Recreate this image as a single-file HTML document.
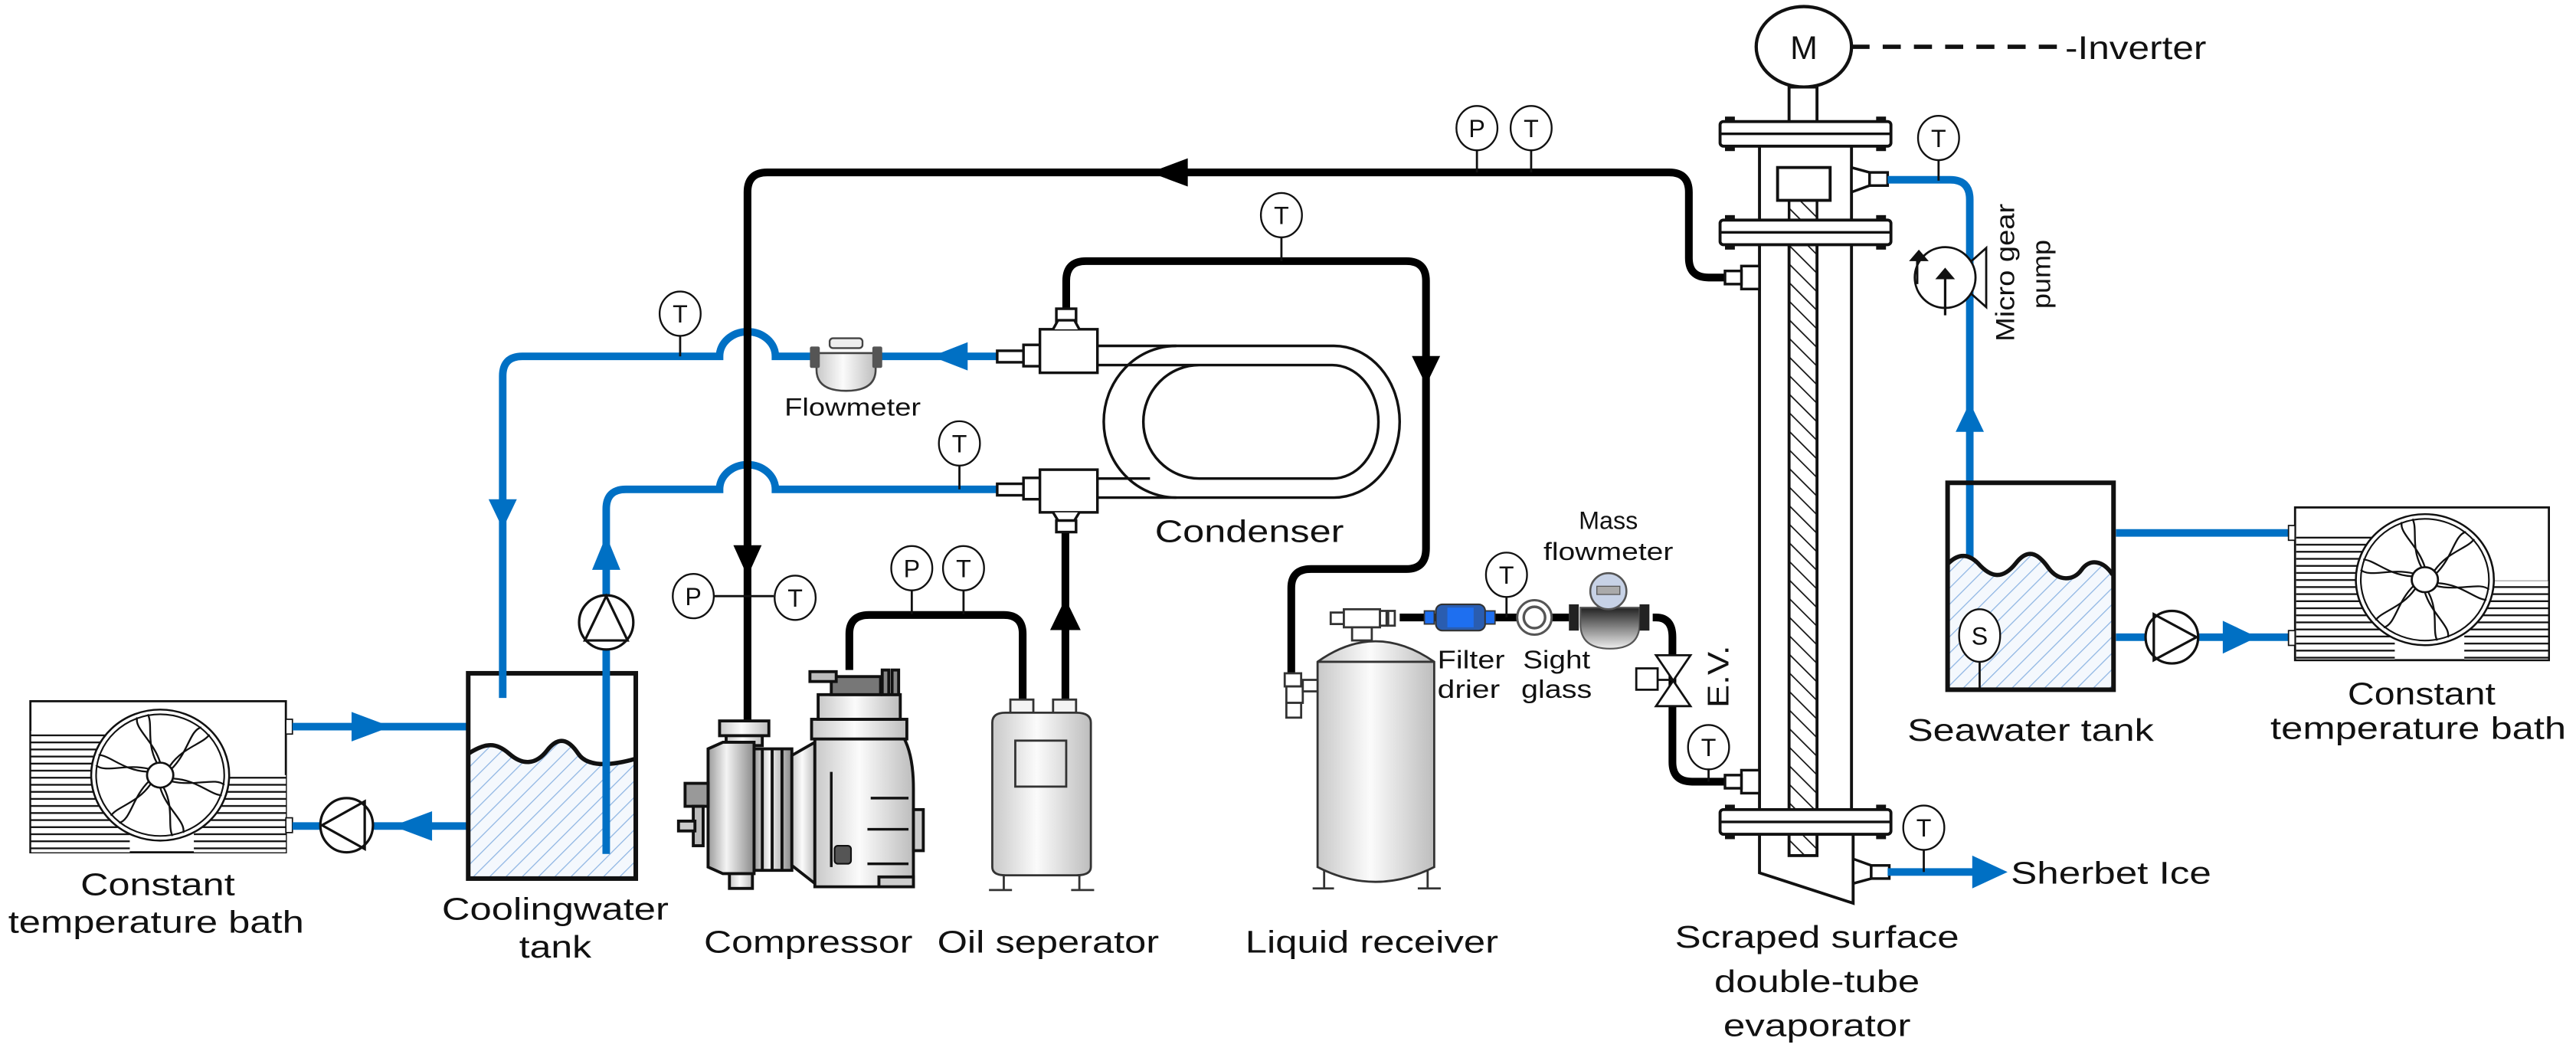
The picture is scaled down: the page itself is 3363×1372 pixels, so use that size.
<!DOCTYPE html>
<html><head><meta charset="utf-8"><style>
html,body{margin:0;padding:0;background:#fff;}
svg{display:block;}
text{font-family:"Liberation Sans",Arial,sans-serif;fill:#111;}
</style></head><body>
<svg width="3363" height="1372" viewBox="0 0 1568 640" preserveAspectRatio="none" xmlns="http://www.w3.org/2000/svg">
<defs>
<pattern id="hatch" patternUnits="userSpaceOnUse" width="7" height="7" patternTransform="rotate(45)">
<rect width="7" height="7" fill="#f4f8fd"/><line x1="0" y1="0" x2="0" y2="7" stroke="#8fb6e3" stroke-width="1.2"/></pattern>
<pattern id="rodh" patternUnits="userSpaceOnUse" width="8" height="8" patternTransform="rotate(-45)">
<rect width="8" height="8" fill="#fff"/><line x1="0" y1="0" x2="0" y2="8" stroke="#111" stroke-width="1.6"/></pattern>
<pattern id="fins" patternUnits="userSpaceOnUse" width="10" height="4.3">
<rect width="10" height="4.3" fill="#fff"/><line x1="0" y1="0.6" x2="10" y2="0.6" stroke="#111" stroke-width="1.1"/></pattern>
<linearGradient id="metal" x1="0" x2="1" y1="0" y2="0">
<stop offset="0" stop-color="#9a9a9a"/><stop offset="0.4" stop-color="#f4f4f4"/><stop offset="1" stop-color="#8a8a8a"/></linearGradient>
<linearGradient id="metal2" x1="0" x2="1">
<stop offset="0" stop-color="#c8c8c8"/><stop offset="0.45" stop-color="#fbfbfb"/><stop offset="1" stop-color="#bdbdbd"/></linearGradient>
<linearGradient id="dark" x1="0" x2="0" y1="0" y2="1">
<stop offset="0" stop-color="#222"/><stop offset="1" stop-color="#eee"/></linearGradient>
<g id="fan">
<circle r="42" fill="#fff" stroke="#111" stroke-width="1.2"/>
<circle r="39" fill="#fff" stroke="#111" stroke-width="1"/>
<g fill="none" stroke="#111" stroke-width="1.1">
<path id="bl" d="M0,-8 C-4,-22 -16,-30 -14,-37"/>
<use href="#bl" transform="rotate(60)"/><use href="#bl" transform="rotate(120)"/>
<use href="#bl" transform="rotate(180)"/><use href="#bl" transform="rotate(240)"/><use href="#bl" transform="rotate(300)"/>
<path id="bl2" d="M6,-6 C14,-18 26,-20 30,-26"/>
<use href="#bl2" transform="rotate(60)"/><use href="#bl2" transform="rotate(120)"/>
<use href="#bl2" transform="rotate(180)"/><use href="#bl2" transform="rotate(240)"/><use href="#bl2" transform="rotate(300)"/>
</g>
<circle r="8" fill="#fff" stroke="#111" stroke-width="1.3"/>
</g>
</defs>

<!-- LEFT BATH -->
<rect x="18.5" y="427" width="155.5" height="92" fill="#fff" stroke="#111" stroke-width="1.3"/>
<rect x="19" y="445" width="60" height="74" fill="url(#fins)"/>
<rect x="118" y="472" width="56" height="47" fill="url(#fins)"/>
<use href="#fan" transform="translate(97.5,472) scale(1,0.95)"/>
<rect x="174" y="438" width="4" height="9" fill="#fff" stroke="#111" stroke-width="0.8"/>
<rect x="174" y="498" width="4" height="9" fill="#fff" stroke="#111" stroke-width="0.8"/>
<text x="96" y="545" text-anchor="middle" font-size="19" textLength="94" lengthAdjust="spacingAndGlyphs">Constant</text>
<text x="95" y="568" text-anchor="middle" font-size="19" textLength="180" lengthAdjust="spacingAndGlyphs">temperature bath</text>

<!-- blue left connections -->
<g stroke="#0070c4" stroke-width="4.6" fill="none">
<path d="M178,442.5 H285"/>
<path d="M178,503 H285"/>
</g>
<polygon points="238,442.5 214,433.5 214,451.5" fill="#0070c4"/>
<polygon points="239,503 263,494 263,512" fill="#0070c4"/>
<ellipse cx="211" cy="502.5" rx="16" ry="16.5" fill="#fff" stroke="#111" stroke-width="1.5"/>
<path d="M196,502.5 L222,488 V517 Z" fill="none" stroke="#111" stroke-width="1.5"/>

<!-- COOLING TANK -->
<path d="M285,459 C296,452 302,452 310,459 C318,466 326,466 333,457 C340,448 346,450 352,459 C356,465 362,467 387,463 V535 H285 Z" fill="url(#hatch)"/>
<path d="M285,459 C296,452 302,452 310,459 C318,466 326,466 333,457 C340,448 346,450 352,459 C356,465 366,468 387,462" fill="none" stroke="#111" stroke-width="2.6"/>
<rect x="285" y="410" width="102" height="125" fill="none" stroke="#111" stroke-width="2.8"/>
<text x="338" y="560" text-anchor="middle" font-size="19" textLength="138" lengthAdjust="spacingAndGlyphs">Coolingwater</text>
<text x="338" y="583" text-anchor="middle" font-size="19" textLength="44" lengthAdjust="spacingAndGlyphs">tank</text>

<!-- blue cooling loops -->
<g stroke="#0070c4" stroke-width="4.6" fill="none">
<path d="M607,217 H472 A17,15 0 0 0 438,217 H318 Q306,217 306,229 V425"/>
<path d="M369,520 V310 Q369,298 381,298 H438 A17,15 0 0 1 472,298 H607"/>
</g>
<polygon points="306,322 297.4,304 314.6,304" fill="#0070c4"/>
<polygon points="369,326 360.4,347 377.6,347" fill="#0070c4"/>
<polygon points="567,217 589,208.4 589,225.6" fill="#0070c4"/>
<circle cx="369" cy="379" r="16.5" fill="#fff" stroke="#111" stroke-width="1.5"/>
<path d="M369,363 L356,390 H382 Z" fill="none" stroke="#111" stroke-width="1.5"/>
<!-- flowmeter -->
<path d="M497,215 H533 V225 Q533,238 515,238 Q497,238 497,225 Z" fill="url(#metal2)" stroke="#444" stroke-width="1.2"/>
<rect x="493" y="211" width="6" height="13" rx="1" fill="#555"/>
<rect x="531" y="211" width="6" height="13" rx="1" fill="#555"/>
<rect x="505" y="206" width="20" height="6" rx="2" fill="#eee" stroke="#444" stroke-width="1.1"/>
<text x="519" y="253" text-anchor="middle" font-size="15" textLength="83" lengthAdjust="spacingAndGlyphs">Flowmeter</text>

<!-- MAIN BLACK LOOP -->
<g stroke="#000" stroke-width="4.7" fill="none">
<path d="M1050,169 H1040 Q1028,169 1028,157 V117 Q1028,105 1016,105 H467 Q455,105 455,117 V439"/>
<path d="M649,189 V171 Q649,159 661,159 H856 Q868,159 868,171 V334 Q868,346.5 856,346.5 H798 Q786,346.5 786,358 V410"/>
<path d="M517,408 V386 Q517,374.5 529,374.5 H611 Q622.5,374.5 622.5,386 V432"/>
<path d="M648.5,432 V320"/>
<path d="M852,376 H874 M903,376 H924 M944,376 H955 M1006,376 H1008 Q1018,376 1018,388 V464 Q1018,476 1030,476 H1050"/>
</g>
<polygon points="700,105 723,96.4 723,113.6" fill="#000"/>
<polygon points="455,351 446.4,332 463.6,332" fill="#000"/>
<polygon points="868,234.6 859.4,216.8 876.6,216.8" fill="#000"/>
<polygon points="648.5,364.5 639.2,383.7 657.8,383.7" fill="#000"/>

<!-- CONDENSER -->
<g fill="none" stroke="#111" stroke-width="1.6">
<path d="M668,210.6 H812 A40,46.2 0 0 1 812,303 H668"/>
<path d="M668,222.3 H811 A28,34.5 0 0 1 811,291.4 H730 A34,34.5 0 0 1 730,222.3"/>
<path d="M668,291.4 H700 M716,210.6 A44,46 0 0 0 716,303"/>
</g>
<g fill="#fff" stroke="#111" stroke-width="1.6">
<rect x="607" y="213.6" width="16" height="7" />
<rect x="623" y="210" width="10" height="13"/>
<rect x="633" y="200.5" width="35" height="26.5"/>
<rect x="643" y="188" width="12" height="8"/>
<path d="M641,200.5 L644,195 H654 L657,200.5"/>
<rect x="607" y="294.6" width="16" height="7"/>
<rect x="623" y="291" width="10" height="13"/>
<rect x="633" y="286" width="35" height="26"/>
<path d="M641,312 L644,317 H654 L657,312"/>
<rect x="643" y="317" width="12" height="7"/>
</g>
<text x="703" y="330" font-size="19" textLength="115" lengthAdjust="spacingAndGlyphs">Condenser</text>

<!-- COMPRESSOR -->
<g stroke="#111" stroke-width="1.8">
<rect x="438" y="439" width="30" height="9" fill="url(#metal2)"/>
<rect x="442" y="448" width="22" height="6" fill="url(#metal2)"/>
<path d="M431,456 L440,452 H459 V532 H440 L431,528 Z" fill="url(#metal)"/>
<rect x="459" y="456" width="23" height="74" fill="url(#metal)"/>
<line x1="464" y1="456" x2="464" y2="530"/><line x1="470" y1="456" x2="470" y2="530"/><line x1="476" y1="456" x2="476" y2="530"/>
<path d="M482,460 L496,452 V538 L482,527 Z" fill="url(#metal2)"/>
<path d="M496,449 H550 Q556,460 556,480 V540 H496 Z" fill="url(#metal2)"/>
<rect x="494" y="438" width="58" height="12" fill="url(#metal2)"/>
<rect x="498" y="423" width="50" height="15" fill="url(#metal2)"/>
<rect x="506" y="412" width="30" height="11" fill="#777"/>
<rect x="493" y="409" width="16" height="6" fill="#bbb"/>
<rect x="537" y="408" width="4" height="15" fill="#888"/><rect x="543" y="408" width="4" height="15" fill="#888"/>
<rect x="556" y="493" width="6" height="25" fill="#ccc"/>
<rect x="535" y="534" width="21" height="6" fill="#ccc"/>
<rect x="444" y="532" width="14" height="9" fill="url(#metal2)"/>
<rect x="417" y="477" width="14" height="14" fill="#999"/>
<rect x="422" y="491" width="6" height="24" fill="#bbb"/>
<rect x="413" y="500" width="10" height="6" fill="#ccc"/>
</g>
<g stroke="#111" stroke-width="1.6">
<line x1="530" y1="486" x2="553" y2="486"/><line x1="528" y1="526" x2="553" y2="526"/><line x1="528" y1="505" x2="553" y2="505"/>
<line x1="506" y1="470" x2="506" y2="528"/>
</g>
<rect x="508" y="515" width="10" height="11" rx="2" fill="#555" stroke="#111"/>
<text x="492" y="580" text-anchor="middle" font-size="19" textLength="127" lengthAdjust="spacingAndGlyphs">Compressor</text>

<!-- OIL SEPARATOR -->
<g stroke="#333" stroke-width="1.3">
<rect x="615" y="426" width="14" height="8" fill="#f4f4f4"/>
<rect x="641" y="426" width="14" height="8" fill="#f4f4f4"/>
<path d="M604,440 Q604,434 612,434 H655 Q664,434 664,440 V528 Q664,533 655,533 H612 Q604,533 604,528 Z" fill="url(#metal2)"/>
<rect x="618" y="451" width="31" height="28" fill="none"/>
<path d="M611,533 V542 M657,533 V542 M602,542 H616 M652,542 H666" fill="none"/>
</g>
<text x="638" y="580" text-anchor="middle" font-size="19" textLength="135" lengthAdjust="spacingAndGlyphs">Oil seperator</text>

<!-- LIQUID RECEIVER -->
<g stroke="#333" stroke-width="1.3">
<path d="M802,403 Q837,378 873,403 V528 Q837,546 802,528 Z" fill="url(#metal2)"/>
<line x1="802" y1="403" x2="873" y2="403"/>
<path d="M806,530 V541 M869,530 V541 M799,541 H812 M863,541 H877" fill="none"/>
<rect x="810" y="373" width="8" height="7" fill="#fff"/>
<rect x="818" y="371" width="22" height="11" fill="#fff"/>
<rect x="840" y="372" width="4" height="9" fill="#fff"/><rect x="845" y="372" width="4" height="9" fill="#fff"/>
<rect x="823" y="382" width="12" height="8" fill="#fff"/>
<rect x="782" y="410" width="10" height="8" fill="#fff"/>
<rect x="783" y="418" width="10" height="10" fill="#fff"/>
<rect x="793" y="414" width="9" height="7" fill="#fff"/>
<rect x="783" y="428" width="9" height="9" fill="#fff"/>
</g>
<text x="835" y="580" text-anchor="middle" font-size="19" textLength="154" lengthAdjust="spacingAndGlyphs">Liquid receiver</text>

<!-- filter drier / sight glass / mass flowmeter -->
<rect x="874" y="368" width="30" height="16" rx="4" fill="#2a5db0" stroke="#333" stroke-width="1"/>
<rect x="881" y="370" width="16" height="12" fill="#1e6ff0"/>
<rect x="867" y="372" width="6" height="8" fill="#1e6ff0" stroke="#333" stroke-width="0.8"/>
<rect x="904" y="372" width="6" height="8" fill="#1e6ff0" stroke="#333" stroke-width="0.8"/>
<circle cx="934" cy="376" r="10.5" fill="#fff" stroke="#555" stroke-width="1.4"/>
<circle cx="934" cy="376" r="6.5" fill="#fff" stroke="#555" stroke-width="1.6"/>
<path d="M962,370 H998 V380 Q998,395 980,395 Q962,395 962,380 Z" fill="url(#dark)" stroke="#555"/>
<rect x="955" y="368" width="6" height="16" fill="#222"/>
<rect x="998" y="368" width="6" height="16" fill="#222"/>
<circle cx="979" cy="360" r="11" fill="#c7d2e6" stroke="#555" stroke-width="1.2"/>
<rect x="972" y="357" width="14" height="5" fill="#aaa" stroke="#555" stroke-width="0.6"/>
<text x="875" y="407" font-size="15.5" textLength="41" lengthAdjust="spacingAndGlyphs">Filter</text>
<text x="875" y="425" font-size="15.5" textLength="38" lengthAdjust="spacingAndGlyphs">drier</text>
<text x="927" y="407" font-size="15.5" textLength="41" lengthAdjust="spacingAndGlyphs">Sight</text>
<text x="926" y="425" font-size="15.5" textLength="43" lengthAdjust="spacingAndGlyphs">glass</text>
<text x="979" y="322" text-anchor="middle" font-size="15" textLength="36" lengthAdjust="spacingAndGlyphs">Mass</text>
<text x="979" y="341" text-anchor="middle" font-size="15" textLength="79" lengthAdjust="spacingAndGlyphs">flowmeter</text>
<!-- EV -->
<path d="M1008,399 H1029 L1008,430 H1029 Z" fill="#fff" stroke="#111" stroke-width="1.3"/>
<rect x="996" y="407" width="13" height="13" fill="#fff" stroke="#111" stroke-width="1.3"/>
<line x1="1009" y1="414" x2="1018" y2="414" stroke="#111" stroke-width="1.3"/>
<text transform="translate(1052,412) rotate(-90)" text-anchor="middle" font-size="18" textLength="38" lengthAdjust="spacingAndGlyphs">E.V.</text>

<!-- EVAPORATOR -->
<ellipse cx="1098" cy="28.5" rx="29" ry="24.5" fill="#fff" stroke="#111" stroke-width="2"/>
<text x="1098" y="36" text-anchor="middle" font-size="20">M</text>
<line x1="1127" y1="28.5" x2="1255" y2="28.5" stroke="#111" stroke-width="2.6" stroke-dasharray="11,8"/>
<text x="1257" y="36" font-size="20" textLength="86" lengthAdjust="spacingAndGlyphs">-Inverter</text>
<rect x="1089" y="53" width="17" height="22" fill="#fff" stroke="#111" stroke-width="1.8"/>
<g stroke="#111" stroke-width="1.8" fill="none">
<path d="M1071,89 V134 M1127,89 V134"/>
<path d="M1071,149 V493 M1127,149 V493"/>
<path d="M1071,508 V531.5 L1128,550 V508"/>
</g>
<rect x="1089" y="122" width="17" height="12" fill="url(#rodh)" stroke="#111" stroke-width="1.6"/>
<rect x="1082" y="102" width="32" height="20" fill="#fff" stroke="#111" stroke-width="1.8"/>
<rect x="1089" y="149" width="17" height="372" fill="url(#rodh)" stroke="#111" stroke-width="1.8"/>
<g fill="#fff" stroke="#111" stroke-width="1.8">
<rect x="1047" y="74" width="104" height="15" rx="2"/>
<rect x="1047" y="134" width="104" height="15" rx="2"/>
<rect x="1047" y="493" width="104" height="15" rx="2"/>
</g>
<g stroke="#111" stroke-width="1.6">
<line x1="1047" y1="81.5" x2="1151" y2="81.5"/><line x1="1047" y1="141.5" x2="1151" y2="141.5"/><line x1="1047" y1="500.5" x2="1151" y2="500.5"/>
</g>
<g fill="#111">
<rect x="1050" y="71" width="6" height="3"/><rect x="1142" y="71" width="6" height="3"/><rect x="1050" y="89" width="6" height="3"/><rect x="1142" y="89" width="6" height="3"/>
<rect x="1050" y="131" width="6" height="3"/><rect x="1142" y="131" width="6" height="3"/><rect x="1050" y="149" width="6" height="3"/><rect x="1142" y="149" width="6" height="3"/>
<rect x="1050" y="490" width="6" height="3"/><rect x="1142" y="490" width="6" height="3"/><rect x="1050" y="508" width="6" height="3"/><rect x="1142" y="508" width="6" height="3"/>
</g>
<g fill="#fff" stroke="#111" stroke-width="1.6">
<path d="M1127,102 L1138,105 V113 L1127,117 Z"/><rect x="1138" y="105" width="11" height="8"/>
<path d="M1128,523 L1139,527 V535 L1128,538 Z"/><rect x="1139" y="527" width="11" height="8"/>
<rect x="1060" y="162" width="11" height="14"/><rect x="1050" y="165" width="10" height="8"/>
<rect x="1060" y="469" width="11" height="14"/><rect x="1050" y="472" width="10" height="8"/>
</g>
<text x="1106" y="577" text-anchor="middle" font-size="19" textLength="173" lengthAdjust="spacingAndGlyphs">Scraped surface</text>
<text x="1106" y="604" text-anchor="middle" font-size="19" textLength="125" lengthAdjust="spacingAndGlyphs">double-tube</text>
<text x="1106" y="631" text-anchor="middle" font-size="19" textLength="114" lengthAdjust="spacingAndGlyphs">evaporator</text>

<!-- right blue circuit -->
<g stroke="#0070c4" stroke-width="4.6" fill="none">
<path d="M1149,109.5 H1187 Q1199,109.5 1199,121.5 V341"/>
<path d="M1149,531 H1205"/>
<path d="M1288,324.5 H1394"/>
<path d="M1288,388 H1394"/>
</g>
<polygon points="1222,531 1200.5,521 1200.5,541" fill="#0070c4"/>
<text x="1224" y="538" font-size="19" textLength="122" lengthAdjust="spacingAndGlyphs">Sherbet Ice</text>
<polygon points="1199,245 1190.4,263 1207.6,263" fill="#0070c4"/>
<polygon points="1374,388 1353,378 1353,398" fill="#0070c4"/>
<!-- micro gear pump -->
<circle cx="1184" cy="169" r="18.5" fill="#fff" stroke="#111" stroke-width="1.3"/>
<path d="M1200,159 L1209,151 V187 L1200,179" fill="none" stroke="#111" stroke-width="1.3"/>
<path d="M1184,192 V166" stroke="#111" stroke-width="1.5"/>
<polygon points="1184,163 1178,170 1190,170" fill="#111"/>
<path d="M1167,173 V156" stroke="#111" stroke-width="1.4" fill="none"/>
<polygon points="1168,152 1162,159 1174,159" fill="#111"/>
<text transform="translate(1226,166) rotate(-90)" text-anchor="middle" font-size="16" textLength="84" lengthAdjust="spacingAndGlyphs">Micro gear</text>
<text transform="translate(1248,167) rotate(-90)" text-anchor="middle" font-size="16" textLength="42" lengthAdjust="spacingAndGlyphs">pump</text>

<!-- SEAWATER TANK -->
<path d="M1186,343 C1192,337 1198,337 1204,343 C1212,352 1219,353 1227,343 C1234,334 1240,336 1247,346 C1253,354 1262,354 1267,347 C1272,340 1280,341 1286,350 V420 H1186 Z" fill="url(#hatch)"/>
<path d="M1186,343 C1192,337 1198,337 1204,343 C1212,352 1219,353 1227,343 C1234,334 1240,336 1247,346 C1253,354 1262,354 1267,347 C1272,340 1280,341 1286,350" fill="none" stroke="#111" stroke-width="2.6"/>
<rect x="1185.5" y="294" width="101" height="126" fill="none" stroke="#111" stroke-width="2.8"/>
<text x="1236" y="451" text-anchor="middle" font-size="19" textLength="150" lengthAdjust="spacingAndGlyphs">Seawater tank</text>
<circle cx="1322" cy="388" r="16" fill="#fff" stroke="#111" stroke-width="1.5"/>
<path d="M1337,388 L1311,374 V402 Z" fill="none" stroke="#111" stroke-width="1.5"/>

<!-- RIGHT BATH -->
<rect x="1397" y="309" width="154.5" height="93" fill="#fff" stroke="#111" stroke-width="1.3"/>
<rect x="1397.7" y="326" width="60" height="75.5" fill="url(#fins)"/>
<rect x="1500" y="353.5" width="51" height="48" fill="url(#fins)"/>
<use href="#fan" transform="translate(1476,353) scale(1,0.95)"/>
<rect x="1393" y="320" width="4" height="9" fill="#fff" stroke="#111" stroke-width="0.8"/>
<rect x="1393" y="384" width="4" height="9" fill="#fff" stroke="#111" stroke-width="0.8"/>
<text x="1474" y="429" text-anchor="middle" font-size="19" textLength="90" lengthAdjust="spacingAndGlyphs">Constant</text>
<text x="1472" y="450" text-anchor="middle" font-size="19" textLength="180" lengthAdjust="spacingAndGlyphs">temperature bath</text>

<!-- SENSORS -->
<g stroke="#111" stroke-width="1.3">
<line x1="414" y1="204" x2="414" y2="217"/>
<line x1="584" y1="283" x2="584" y2="298"/>
<line x1="780" y1="144" x2="780" y2="159"/>
<line x1="899" y1="91" x2="899" y2="105"/><line x1="932" y1="91" x2="932" y2="105"/>
<line x1="435" y1="363" x2="471" y2="363"/>
<line x1="555" y1="359" x2="555" y2="374"/><line x1="586.5" y1="359" x2="586.5" y2="374"/>
<line x1="917" y1="363" x2="917" y2="376"/>
<line x1="1040" y1="468" x2="1040" y2="476"/>
<line x1="1180" y1="97" x2="1180" y2="110"/>
<line x1="1171" y1="517" x2="1171" y2="531"/>
<line x1="1205" y1="403" x2="1205" y2="420"/>
</g>
<g fill="#fff" stroke="#111" stroke-width="1.1">
<ellipse cx="414" cy="191" rx="12.5" ry="13.5"/>
<ellipse cx="584" cy="270" rx="12.5" ry="13.5"/>
<ellipse cx="780" cy="131" rx="12.5" ry="13.5"/>
<ellipse cx="899" cy="78" rx="12.5" ry="13.5"/><ellipse cx="932" cy="78" rx="12.5" ry="13.5"/>
<ellipse cx="422" cy="363" rx="12.5" ry="13.5"/><ellipse cx="484" cy="364" rx="12.5" ry="13.5"/>
<ellipse cx="555" cy="346" rx="12.5" ry="13.5"/><ellipse cx="586.5" cy="346" rx="12.5" ry="13.5"/>
<ellipse cx="917" cy="350" rx="12.5" ry="13.5"/>
<ellipse cx="1040" cy="455" rx="12.5" ry="13.5"/>
<ellipse cx="1180" cy="84" rx="12.5" ry="13.5"/>
<ellipse cx="1171" cy="504" rx="12.5" ry="13.5"/>
<ellipse cx="1205" cy="387" rx="12.5" ry="16"/>
</g>
<g font-size="15" text-anchor="middle">
<text x="414" y="196.5">T</text><text x="584" y="275.5">T</text><text x="780" y="136.5">T</text>
<text x="899" y="83.5">P</text><text x="932" y="83.5">T</text>
<text x="422" y="368.5">P</text><text x="484" y="369.5">T</text>
<text x="555" y="351.5">P</text><text x="586.5" y="351.5">T</text>
<text x="917" y="355.5">T</text><text x="1040" y="460.5">T</text>
<text x="1180" y="89.5">T</text><text x="1171" y="509.5">T</text><text x="1205" y="392.5">S</text>
</g>
</svg>
</body></html>
